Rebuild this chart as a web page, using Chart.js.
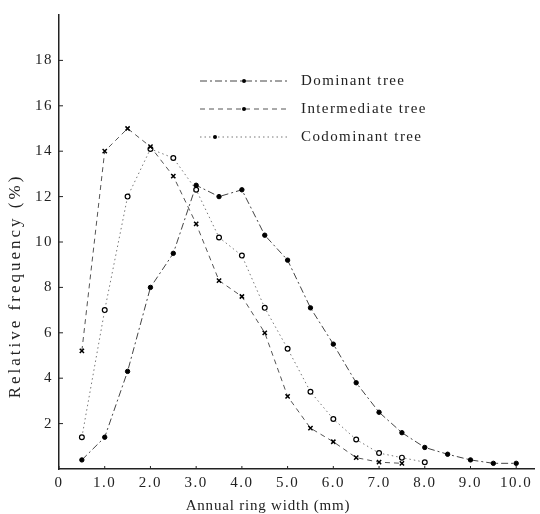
<!DOCTYPE html>
<html>
<head>
<meta charset="utf-8">
<script src="https://cdn.jsdelivr.net/npm/chart.js@4"></script>
<style>
  html, body { margin: 0; padding: 0; background: #fff; }
  #wrap { width: 540px; height: 514px; }
</style>
</head>
<body>
<div id="wrap"><canvas id="ringChart"></canvas></div>
<script>
// ring width classes (mm) and relative frequency (%)
const domX = [0.5, 1.0, 1.5, 2.0, 2.5, 3.0, 3.5, 4.0, 4.5, 5.0, 5.5, 6.0, 6.5, 7.0, 7.5, 8.0, 8.5, 9.0, 9.5, 10.0];
const domY = [0.4, 1.4, 4.3, 8.0, 9.5, 12.5, 12.0, 12.3, 10.3, 9.2, 7.1, 5.5, 3.8, 2.5, 1.6, 0.95, 0.65, 0.4, 0.25, 0.25];

const intX = [0.5, 1.0, 1.5, 2.0, 2.5, 3.0, 3.5, 4.0, 4.5, 5.0, 5.5, 6.0, 6.5, 7.0, 7.5];
const intY = [5.2, 14.0, 15.0, 14.2, 12.9, 10.8, 8.3, 7.6, 6.0, 3.2, 1.8, 1.2, 0.5, 0.3, 0.25];

const codX = [0.5, 1.0, 1.5, 2.0, 2.5, 3.0, 3.5, 4.0, 4.5, 5.0, 5.5, 6.0, 6.5, 7.0, 7.5, 8.0];
const codY = [1.4, 7.0, 12.0, 14.1, 13.7, 12.3, 10.2, 9.4, 7.1, 5.3, 3.4, 2.2, 1.3, 0.7, 0.5, 0.3];

const xTicks = [0, 1, 2, 3, 4, 5, 6, 7, 8, 9, 10];
const yTicks = [2, 4, 6, 8, 10, 12, 14, 16, 18];
const seriesNames = ["Dominant tree", "Intermediate tree", "Codominant tree"];
const xTitle = "Annual ring width (mm)";
const yTitle = "Relative frequency (%)";

const serif = "'Liberation Serif', 'DejaVu Serif', serif";

function toPoints(xs, ys) {
    let pts = [];
    for (let i = 0; i < xs.length; i++) {
        pts.push({ x: xs[i], y: ys[i] });
    }
    return pts;
}

// the printed figure has wide letter spacing everywhere
const spacing = {
    id: 'spacing',
    beforeDraw(chart) {
        chart.ctx.letterSpacing = '1.5px';
    }
};

// small inward ticks, axis titles placed like the figure
const decor = {
    id: 'decor',
    afterDraw(chart) {
        const c = chart.ctx;
        const xs = chart.scales.x, ys = chart.scales.y;
        c.save();
        c.strokeStyle = '#222';
        c.lineWidth = 1;
        yTicks.forEach(v => {
            const p = ys.getPixelForValue(v);
            c.beginPath(); c.moveTo(xs.left, p); c.lineTo(xs.left + 4, p); c.stroke();
        });
        xTicks.forEach(v => {
            const p = xs.getPixelForValue(v);
            c.beginPath(); c.moveTo(p, ys.bottom); c.lineTo(p, ys.bottom - 3); c.stroke();
        });

        c.fillStyle = '#222';
        c.textAlign = 'center';
        c.textBaseline = 'middle';
        c.font = "15px " + serif;
        c.letterSpacing = '0.8px';
        c.fillText(xTitle, 268, 506);

        c.translate(16, 286);
        c.rotate(-Math.PI / 2);
        c.font = "17px " + serif;
        c.letterSpacing = '3px';
        c.fillText(yTitle, 0, 0);
        c.restore();
    }
};

// legend drawn inside the plot, as in the figure
const lineLegend = {
    id: 'lineLegend',
    afterDraw(chart) {
        const c = chart.ctx;
        const rows = [81, 109, 137];
        c.save();
        chart.data.datasets.forEach((ds, i) => {
            const y = rows[i];
            c.strokeStyle = ds.borderColor;
            c.lineWidth = ds.borderWidth;
            c.setLineDash(ds.borderDash);
            c.beginPath(); c.moveTo(200, y); c.lineTo(290, y); c.stroke();
            c.setLineDash([]);
            c.fillStyle = '#000';
            c.beginPath(); c.arc(i == 2 ? 215 : 244, y, 2, 0, Math.PI * 2); c.fill();
            c.fillStyle = '#222';
            c.font = "15px " + serif;
            c.letterSpacing = '1.4px';
            c.textBaseline = 'middle';
            c.fillText(seriesNames[i], 301, y);
        });
        c.restore();
    }
};

const ctx = document.getElementById('ringChart');

new Chart(ctx, {
    type: 'scatter',
    data: {
        datasets: [{
            label: seriesNames[0],
            data: toPoints(domX, domY),
            showLine: true,
            borderColor: '#444',
            borderWidth: 1,
            borderDash: [7, 3, 2, 3],
            pointStyle: 'circle',
            pointRadius: 2.2,
            pointBackgroundColor: '#000',
            pointBorderColor: '#000'
        }, {
            label: seriesNames[1],
            data: toPoints(intX, intY),
            showLine: true,
            borderColor: '#555',
            borderWidth: 1,
            borderDash: [5, 4],
            pointStyle: 'crossRot',
            pointRadius: 3,
            pointBorderWidth: 1.5,
            pointBorderColor: '#000'
        }, {
            label: seriesNames[2],
            data: toPoints(codX, codY),
            showLine: true,
            borderColor: '#777',
            borderWidth: 1,
            borderDash: [1.5, 3],
            pointStyle: 'circle',
            pointRadius: 2.4,
            pointBorderWidth: 1.2,
            pointBackgroundColor: '#fff',
            pointBorderColor: '#000'
        }]
    },
    options: {
        responsive: true,
        maintainAspectRatio: false,
        animation: false,
        layout: { padding: { top: 15, right: 3, left: 0, bottom: 0 } },
        plugins: {
            legend: { display: false },
            tooltip: { enabled: false }
        },
        scales: {
            x: {
                type: 'linear',
                min: 0,
                max: 10.4,
                afterBuildTicks: scale => { scale.ticks = xTicks.map(v => ({ value: v })); },
                afterFit: scale => { scale.height = 45; },
                grid: { display: false, drawTicks: false },
                border: { display: true, color: '#222', width: 1.5 },
                ticks: {
                    color: '#222',
                    padding: 5,
                    maxRotation: 0,
                    font: { family: serif, size: 15 },
                    callback: v => (v === 0 ? '0' : v.toFixed(1))
                }
            },
            y: {
                type: 'linear',
                min: 0,
                max: 20,
                afterBuildTicks: scale => { scale.ticks = yTicks.map(v => ({ value: v })); },
                afterFit: scale => { scale.width = 59; },
                grid: { display: false, drawTicks: false },
                border: { display: true, color: '#222', width: 1.5 },
                ticks: {
                    color: '#222',
                    padding: 6,
                    font: { family: serif, size: 15 }
                }
            }
        }
    },
    plugins: [spacing, decor, lineLegend]
});
</script>
</body>
</html>
